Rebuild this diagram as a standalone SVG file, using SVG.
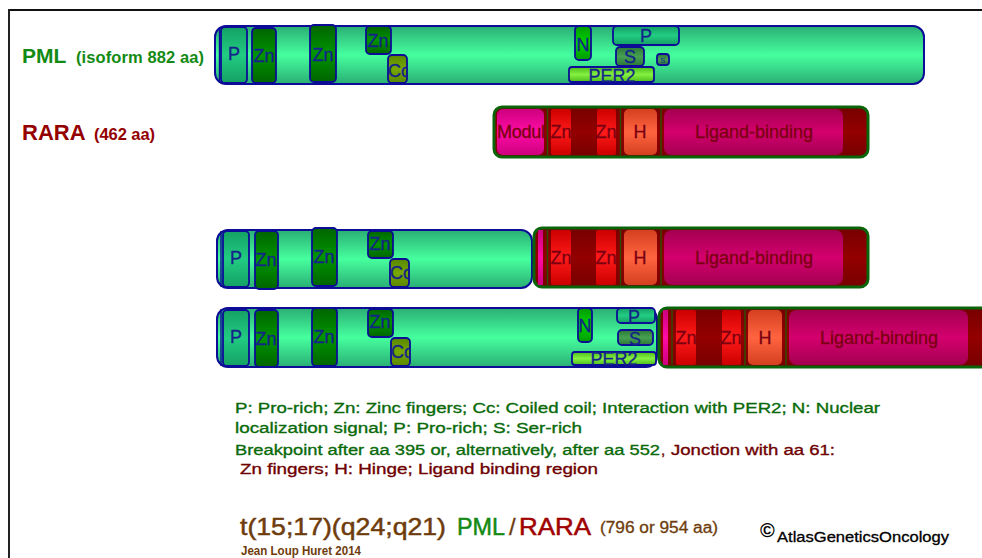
<svg xmlns="http://www.w3.org/2000/svg" width="982" height="558" viewBox="0 0 982 558">
<defs>
<linearGradient id="gPML" x1="0" y1="0" x2="0" y2="1"><stop offset="0" stop-color="#2aae74"/><stop offset="0.5" stop-color="#46ff9e"/><stop offset="1" stop-color="#2aae74"/></linearGradient>
<linearGradient id="gP" x1="0" y1="0" x2="0" y2="1"><stop offset="0" stop-color="#14a064"/><stop offset="0.5" stop-color="#22cc82"/><stop offset="1" stop-color="#14a064"/></linearGradient>
<linearGradient id="gZn" x1="0" y1="0" x2="0" y2="1"><stop offset="0" stop-color="#006400"/><stop offset="0.5" stop-color="#009400"/><stop offset="1" stop-color="#006400"/></linearGradient>
<linearGradient id="gCc" x1="0" y1="0" x2="0" y2="1"><stop offset="0" stop-color="#588600"/><stop offset="0.5" stop-color="#78a800"/><stop offset="1" stop-color="#588600"/></linearGradient>
<linearGradient id="gN" x1="0" y1="0" x2="0" y2="1"><stop offset="0" stop-color="#009a00"/><stop offset="0.5" stop-color="#00d200"/><stop offset="1" stop-color="#009a00"/></linearGradient>
<linearGradient id="gS" x1="0" y1="0" x2="0" y2="1"><stop offset="0" stop-color="#2c7638"/><stop offset="0.5" stop-color="#46a050"/><stop offset="1" stop-color="#2c7638"/></linearGradient>
<linearGradient id="gPER" x1="0" y1="0" x2="0" y2="1"><stop offset="0" stop-color="#4cbc1c"/><stop offset="0.5" stop-color="#84f040"/><stop offset="1" stop-color="#4cbc1c"/></linearGradient>
<linearGradient id="gRb" x1="0" y1="0" x2="0" y2="1"><stop offset="0" stop-color="#760000"/><stop offset="0.5" stop-color="#940000"/><stop offset="1" stop-color="#760000"/></linearGradient>
<linearGradient id="gMod" x1="0" y1="0" x2="0" y2="1"><stop offset="0" stop-color="#cc007e"/><stop offset="0.5" stop-color="#ff0ca6"/><stop offset="1" stop-color="#cc007e"/></linearGradient>
<linearGradient id="gRZn" x1="0" y1="0" x2="0" y2="1"><stop offset="0" stop-color="#cc0000"/><stop offset="0.5" stop-color="#ff1a1a"/><stop offset="1" stop-color="#cc0000"/></linearGradient>
<linearGradient id="gH" x1="0" y1="0" x2="0" y2="1"><stop offset="0" stop-color="#d44020"/><stop offset="0.5" stop-color="#ff6440"/><stop offset="1" stop-color="#d44020"/></linearGradient>
<linearGradient id="gLig" x1="0" y1="0" x2="0" y2="1"><stop offset="0" stop-color="#a40050"/><stop offset="0.5" stop-color="#d4006e"/><stop offset="1" stop-color="#a40050"/></linearGradient>
<clipPath id="cCc0"><rect x="388" y="55" width="19" height="28"/></clipPath>
<clipPath id="cCc1"><rect x="390" y="259" width="19" height="28"/></clipPath>
<clipPath id="cCc2"><rect x="391" y="338" width="19" height="28"/></clipPath>
</defs>
<style>
text{font-family:"Liberation Sans",Arial,sans-serif}
.bar{fill:url(#gPML);stroke:#0c0c96;stroke-width:2}
.dm{stroke:#0c0c96;stroke-width:1.8}
.p{fill:url(#gP)}
.zn{fill:url(#gZn)}
.cc{fill:url(#gCc)}
.n{fill:url(#gN)}
.s{fill:url(#gS)}
.per{fill:url(#gPER)}
.rb{fill:url(#gRb);stroke:#0a640a;stroke-width:3}
.mod{fill:url(#gMod)}
.rzn{fill:url(#gRZn)}
.h{fill:url(#gH)}
.lig{fill:url(#gLig)}
.sep{stroke:#2c5200;stroke-width:1.4}
.edge{stroke:#0c0c96;stroke-width:1.4}
.tb{font-size:18px;fill:#14248a;stroke:#14248a;stroke-width:0.3;text-anchor:middle}
.tl{text-anchor:start}
.tiny{font-size:8px;stroke-width:0}
.tr{font-size:18px;fill:#7a0010;stroke:#7a0010;stroke-width:0.3;text-anchor:middle}
.leg{font-size:15.5px;fill:#0a6a0a;stroke:#0a6a0a;stroke-width:0.35}
.legr{font-size:15.5px;fill:#6e0000;stroke:#6e0000;stroke-width:0.35}
.brn{fill:#6e3c0c;stroke:#6e3c0c}
</style>

<g id="frame">
<line x1="8" y1="10" x2="982" y2="10" stroke="#111" stroke-width="2"/>
<line x1="9" y1="9" x2="9" y2="558" stroke="#222" stroke-width="2"/>
</g>

<g id="labels">
<text x="22" y="63" font-size="21" font-weight="bold" fill="#138a13">PML</text>
<text x="76" y="63" font-size="16.5" font-weight="bold" fill="#138a13" textLength="128">(isoform 882 aa)</text>
<text x="22" y="140" font-size="22" font-weight="bold" fill="#940000">RARA</text>
<text x="94" y="140" font-size="16.5" font-weight="bold" fill="#940000" textLength="61">(462 aa)</text>
</g>

<g id="pml">
<rect class="bar" x="215" y="26" width="709" height="58" rx="11"/>
<line class="edge" x1="219.5" y1="27" x2="219.5" y2="83"/>
<rect class="dm p" x="221" y="27" width="26" height="56" rx="4"/>
<text class="tb" x="234" y="60">P</text>
<rect class="dm zn" x="252" y="28" width="24" height="55" rx="4"/>
<text class="tb" x="264" y="62">Zn</text>
<rect class="dm zn" x="310" y="25" width="26" height="57" rx="4"/>
<text class="tb" x="323" y="61">Zn</text>
<rect class="dm zn" x="366" y="26" width="25" height="28" rx="4"/>
<text class="tb" x="378" y="47">Zn</text>
<rect class="dm cc" x="388" y="55" width="19" height="28" rx="4"/>
<text class="tb tl" x="388" y="77" clip-path="url(#cCc0)">Cc</text>
<rect class="dm n" x="575" y="26" width="16" height="34" rx="4"/>
<text class="tb" x="583" y="51">N</text>
<rect class="dm p" x="613" y="26" width="66" height="19" rx="4"/>
<text class="tb" x="646" y="42">P</text>
<rect class="dm s" x="616" y="47" width="28" height="19" rx="4"/>
<text class="tb" x="630" y="63">S</text>
<rect class="dm s" x="657" y="54" width="12" height="11" rx="3"/>
<text class="tb tiny" x="663" y="63">S</text>
<rect class="dm per" x="569" y="67" width="85" height="15" rx="3"/>
<text class="tb" x="612" y="82" font-size="17">PER2</text>
</g>

<g id="rara">
<rect class="rb" x="494" y="107" width="374" height="50" rx="8"/>
<rect class="mod" x="497" y="109" width="47" height="46" rx="6"/>
<text class="tr" x="521" y="138" font-size="17" textLength="48">Modul</text>
<line class="sep" x1="547.5" y1="109" x2="547.5" y2="155"/>
<rect class="rzn" x="551" y="109" width="20" height="46" rx="2"/>
<text class="tr" x="561" y="138">Zn</text>
<rect class="rzn" x="597" y="109" width="19" height="46" rx="2"/>
<text class="tr" x="606" y="138">Zn</text>
<line class="sep" x1="620.5" y1="109" x2="620.5" y2="155"/>
<rect class="h" x="624" y="109" width="33" height="46" rx="5"/>
<text class="tr" x="640" y="138">H</text>
<line class="sep" x1="661" y1="109" x2="661" y2="155"/>
<rect class="lig" x="664" y="109" width="179" height="46" rx="7"/>
<text class="tr" x="754" y="138">Ligand-binding</text>
</g>

<g id="fusion1">
<rect class="bar" x="217" y="230" width="315" height="58" rx="11"/>
<line class="edge" x1="221" y1="231" x2="221" y2="287"/>
<rect class="dm p" x="223" y="231" width="26" height="56" rx="4"/>
<text class="tb" x="236" y="264">P</text>
<rect class="dm zn" x="255" y="231" width="23" height="58" rx="4"/>
<text class="tb" x="266" y="266">Zn</text>
<rect class="dm zn" x="312" y="228" width="25" height="58" rx="4"/>
<text class="tb" x="324" y="263">Zn</text>
<rect class="dm zn" x="368" y="231" width="25" height="27" rx="4"/>
<text class="tb" x="380" y="250">Zn</text>
<rect class="dm cc" x="390" y="259" width="19" height="28" rx="4"/>
<text class="tb tl" x="390" y="279" clip-path="url(#cCc1)">Cc</text>
<rect class="rb" x="534" y="228" width="334" height="59" rx="8"/>
<rect class="mod" x="538" y="230" width="5" height="55"/>
<line class="sep" x1="547.5" y1="230" x2="547.5" y2="285"/>
<rect class="rzn" x="551" y="230" width="20" height="55" rx="2"/>
<text class="tr" x="561" y="264">Zn</text>
<rect class="rzn" x="596" y="230" width="20" height="55" rx="2"/>
<text class="tr" x="606" y="264">Zn</text>
<line class="sep" x1="620.5" y1="230" x2="620.5" y2="285"/>
<rect class="h" x="624" y="230" width="33" height="55" rx="5"/>
<text class="tr" x="640" y="264">H</text>
<line class="sep" x1="661" y1="230" x2="661" y2="285"/>
<rect class="lig" x="664" y="230" width="179" height="55" rx="8"/>
<text class="tr" x="754" y="264">Ligand-binding</text>
</g>

<g id="fusion2">
<rect class="bar" x="217" y="308" width="440" height="59" rx="11"/>
<line class="edge" x1="221" y1="309" x2="221" y2="366"/>
<rect class="dm p" x="223" y="310" width="26" height="56" rx="4"/>
<text class="tb" x="236" y="343">P</text>
<rect class="dm zn" x="255" y="310" width="23" height="57" rx="4"/>
<text class="tb" x="266" y="345">Zn</text>
<rect class="dm zn" x="312" y="308" width="25" height="58" rx="4"/>
<text class="tb" x="324" y="343">Zn</text>
<rect class="dm zn" x="368" y="309" width="25" height="28" rx="4"/>
<text class="tb" x="380" y="328">Zn</text>
<rect class="dm cc" x="391" y="338" width="19" height="28" rx="4"/>
<text class="tb tl" x="391" y="358" clip-path="url(#cCc2)">Cc</text>
<rect class="dm n" x="578" y="308" width="14" height="34" rx="4"/>
<text class="tb" x="585" y="332">N</text>
<rect class="dm p" x="617" y="308" width="38" height="15" rx="4"/>
<text class="tb" x="634" y="323">P</text>
<rect class="dm s" x="618" y="330" width="35" height="15" rx="4"/>
<text class="tb" x="635" y="345">S</text>
<rect class="dm per" x="572" y="352" width="84" height="13" rx="3"/>
<text class="tb" x="614" y="365" font-size="17">PER2</text>
<rect class="rb" x="659" y="308" width="340" height="59" rx="8"/>
<rect class="mod" x="663" y="310" width="5" height="55"/>
<line class="sep" x1="672" y1="310" x2="672" y2="365"/>
<rect class="rzn" x="676" y="310" width="20" height="55" rx="2"/>
<text class="tr" x="686" y="344">Zn</text>
<rect class="rzn" x="722" y="310" width="19" height="55" rx="2"/>
<text class="tr" x="731" y="344">Zn</text>
<line class="sep" x1="745" y1="310" x2="745" y2="365"/>
<rect class="h" x="748" y="310" width="34" height="55" rx="5"/>
<text class="tr" x="765" y="344">H</text>
<line class="sep" x1="786" y1="310" x2="786" y2="365"/>
<rect class="lig" x="789" y="310" width="179" height="55" rx="8"/>
<text class="tr" x="879" y="344">Ligand-binding</text>
</g>

<g id="connectors"/>

<g id="legend">
<text class="leg" x="235" y="413" textLength="645" lengthAdjust="spacingAndGlyphs">P: Pro-rich; Zn: Zinc fingers; Cc: Coiled coil; Interaction with PER2; N: Nuclear</text>
<text class="leg" x="235" y="433" textLength="347" lengthAdjust="spacingAndGlyphs">localization signal; P: Pro-rich; S: Ser-rich</text>
<text class="leg" x="235" y="455" textLength="425" lengthAdjust="spacingAndGlyphs">Breakpoint after aa 395 or, alternatively, after aa 552</text>
<text class="legr" x="661" y="455">,</text>
<text class="legr" x="671" y="455" textLength="164" lengthAdjust="spacingAndGlyphs">Jonction with aa 61:</text>
<text class="legr" x="240" y="474" textLength="358" lengthAdjust="spacingAndGlyphs">Zn fingers; H: Hinge; Ligand binding region</text>
</g>

<g id="title">
<text class="brn" x="240" y="535" font-size="24" stroke-width="0.5" textLength="206" lengthAdjust="spacingAndGlyphs">t(15;17)(q24;q21)</text>
<text x="457" y="535" font-size="24" fill="#138a13" stroke="#138a13" stroke-width="0.5" textLength="48" lengthAdjust="spacingAndGlyphs">PML</text>
<text class="brn" x="509" y="535" font-size="24" stroke-width="0.3">/</text>
<text x="519" y="535" font-size="24" fill="#a00000" stroke="#a00000" stroke-width="0.5" textLength="72" lengthAdjust="spacingAndGlyphs">RARA</text>
<text class="brn" x="600" y="533" font-size="16" stroke-width="0.3" textLength="118" lengthAdjust="spacingAndGlyphs">(796 or 954 aa)</text>
<text x="760" y="537" font-size="20" font-weight="bold" fill="#000">©</text>
<text x="777" y="542" font-size="14" fill="#000" stroke="#000" stroke-width="0.3" textLength="172" lengthAdjust="spacingAndGlyphs">AtlasGeneticsOncology</text>
<text x="241" y="555" font-size="12" font-weight="bold" fill="#6e3c0c" textLength="120" lengthAdjust="spacingAndGlyphs">Jean Loup Huret 2014</text>
</g>
</svg>
